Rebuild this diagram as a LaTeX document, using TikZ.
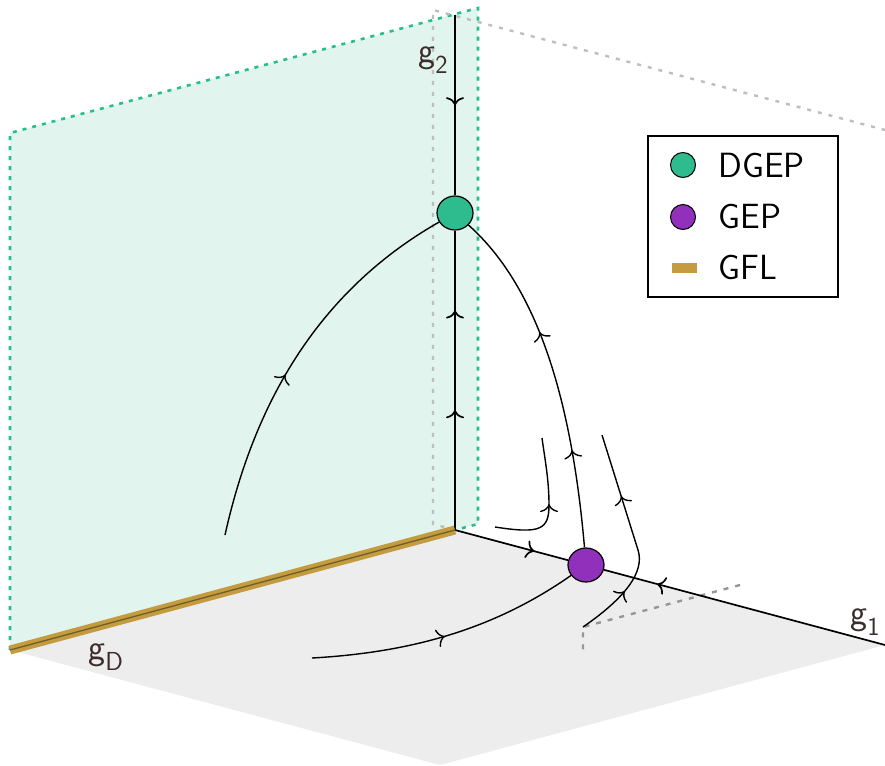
\documentclass[tikz,border=0pt]{standalone}
\usetikzlibrary{arrows.meta,decorations.markings,shapes.geometric}
\definecolor{mint}{RGB}{225,244,237}
\definecolor{mintline}{RGB}{38,190,140}
\definecolor{floorgray}{RGB}{237,237,237}
\definecolor{dashgray}{RGB}{190,190,190}
\definecolor{smallgray}{RGB}{150,150,150}
\definecolor{dgepcol}{RGB}{46,187,142}
\definecolor{gepcol}{RGB}{145,48,186}
\definecolor{gflcol}{RGB}{196,155,62}
\definecolor{gflin}{RGB}{110,95,40}
\definecolor{labcol}{RGB}{60,45,45}
\newcommand\flowtip{\arrow{Computer Modern Rightarrow[length=8pt,width=18pt]}}
\newcommand\axlab[1]{g\raisebox{-11pt}{\fontsize{26}{26}\selectfont #1}}
\tikzset{
  traj/.style={draw=black,line width=1.4pt},
  axisline/.style={draw=black,line width=1.7pt},
  greendash/.style={draw=mintline,line width=2.6pt,dash pattern=on 4pt off 6pt},
  graydash/.style={draw=dashgray,line width=2.4pt,dash pattern=on 4pt off 7pt},
  smalldash/.style={draw=smallgray,line width=2.4pt,dash pattern=on 5pt off 7pt},
  fixpt/.style={ellipse,draw=black,line width=1.2pt,minimum width=36pt,minimum height=34pt,inner sep=0pt},
  axlabel/.style={anchor=base west,text=labcol,font=\sffamily\fontsize{36}{40}\selectfont},
  legtext/.style={anchor=base west,text=black,font=\sffamily\fontsize{35}{40}\selectfont},
  arr1/.style={postaction={decorate},decoration={markings,mark=at position #1 with {\flowtip}}},
  arr2/.style 2 args={postaction={decorate},decoration={markings,mark=at position #1 with {\flowtip},mark=at position #2 with {\flowtip}}}
}
\begin{document}
\begin{tikzpicture}[x=1pt,y=-1pt]
\useasboundingbox (0,0) rectangle (885,765);
% base points
\coordinate (O) at (455,530);
\coordinate (D1) at (10,650);
\coordinate (G1) at (885,645);
\coordinate (G2) at (455,15);
\coordinate (F) at (440,765);
\coordinate (GR) at (478,524);
\coordinate (GT) at (478,8);
\coordinate (GL) at (10,133);
\coordinate (B0) at (433,524);
\coordinate (B1) at (433,10);
\coordinate (B2) at (885,130);
\coordinate (P) at (583,627);
\coordinate (P1) at (740,585);
\coordinate (P2) at (583,655);
% planes
\fill[floorgray] (D1) -- (O) -- (G1) -- (F) -- cycle;
\fill[mint] (D1) -- (GR) -- (GT) -- (GL) -- cycle;
\draw[greendash] (D1) -- (GL) -- (GT) -- (GR) -- (O);
\draw[graydash] (O) -- (B0) -- (B1) -- (B2);
\draw[smalldash] (P1) -- (P) -- (P2);
% fixed points
\node[fixpt,fill=dgepcol] (DGEP) at (455,213) {};
\node[fixpt,fill=gepcol] (GEP) at (586,565) {};
% axes
\draw[axisline,arr1=0.5] (G2) -- (DGEP);
\draw[axisline,arr2={0.4}{0.733}] (O) -- (DGEP);
\draw[axisline,arr1=0.7] (O) -- (GEP);
\draw[axisline,arr1=0.81] (G1) -- (GEP);
% GFL
\draw[gflcol,line width=9pt] (D1) -- (O);
\draw[gflin,line width=1.3pt] (D1) -- (O);
% trajectories
\coordinate (L0) at (225,535);
\draw[traj,arr1=0.44] (L0) .. controls (255,400) and (320,290) .. (DGEP);
\draw[traj,arr2={0.28}{0.63}] (GEP) .. controls (570,380) and (530,280) .. (DGEP);
\coordinate (H0) at (495,527);
\coordinate (H1) at (549,505);
\coordinate (H2) at (542,438);
\draw[traj,arr1=0.52] (H0) .. controls (540,534) and (549,530) .. (H1) .. controls (549,480) and (545,460) .. (H2);
\coordinate (R1) at (638,550);
\coordinate (R2) at (602,435);
\draw[traj,arr2={0.25}{0.71}] (P) .. controls (625,598) and (645,572) .. (R1) -- (R2);
\coordinate (S0) at (312,658);
\draw[traj,arr1=0.49] (S0) .. controls (420,652) and (500,625) .. (GEP);
% axis labels
\node[axlabel] (lab2) at (415,63) {\axlab{2}};
\node[axlabel] (labD) at (85,659) {\axlab{D}};
\node[axlabel] (lab1) at (847,624) {\axlab{1}};
% legend
\draw[line width=1.3pt] (648,136) rectangle (838,297);
\node[circle,draw=black,line width=1pt,fill=dgepcol,minimum size=25pt,inner sep=0pt] (k1) at (683,165) {};
\node[circle,draw=black,line width=1pt,fill=gepcol,minimum size=25pt,inner sep=0pt] (k2) at (683,217) {};
\fill[gflcol] (672,263) rectangle (697,273);
\node[legtext] (t1) at (715,177) {DGEP};
\node[legtext] (t2) at (715,228) {GEP};
\node[legtext] (t3) at (715,279) {GFL};
\end{tikzpicture}
\end{document}
